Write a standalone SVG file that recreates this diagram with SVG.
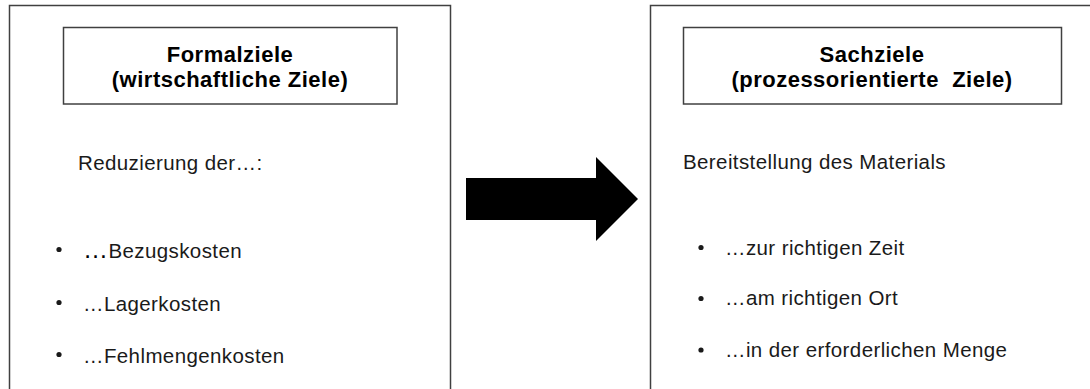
<svg xmlns="http://www.w3.org/2000/svg" width="1090" height="389" viewBox="0 0 1090 389">
<style>
.frame{fill:#fff;stroke:#404040;stroke-width:1.5}
.title{font-family:"Liberation Sans",Arial,sans-serif;font-weight:bold;font-size:22px;letter-spacing:0.5px;fill:#000;text-anchor:middle;white-space:pre}
.txt{font-family:"Liberation Sans",Arial,sans-serif;font-size:20.5px;letter-spacing:0.4px;fill:#1a1a1a}
.bul{fill:#1a1a1a}
</style>
<rect width="1090" height="389" fill="#fff"/>
<g id="formalziele">
<rect class="frame" x="9.5" y="5.5" width="441" height="400"/>
<rect class="frame" x="63.5" y="27.5" width="333.5" height="76.5"/>
<text class="title" x="230" y="62">Formalziele</text>
<text class="title" x="230" y="87">(wirtschaftliche Ziele)</text>
<text class="txt" x="78" y="170">Reduzierung der…:</text>
<circle class="bul" cx="59" cy="249.5" r="2.6"/>
<text class="txt" x="83" y="258"><tspan font-size="25px" fill="#000">…</tspan>Bezugskosten</text>
<circle class="bul" cx="59" cy="302.5" r="2.6"/>
<text class="txt" x="83" y="311">…Lagerkosten</text>
<circle class="bul" cx="59" cy="354.5" r="2.6"/>
<text class="txt" x="83" y="363">…Fehlmengenkosten</text>
</g>
<g id="sachziele">
<rect class="frame" x="650.5" y="5.5" width="460" height="400"/>
<rect class="frame" x="683.5" y="27.5" width="378" height="76.5"/>
<text class="title" x="872" y="62">Sachziele</text>
<text class="title" x="872" y="87" xml:space="preserve">(prozessorientierte  Ziele)</text>
<text class="txt" x="683" y="169">Bereitstellung des Materials</text>
<circle class="bul" cx="701" cy="247.5" r="2.6"/>
<text class="txt" x="725" y="255">…zur richtigen Zeit</text>
<circle class="bul" cx="701" cy="298.5" r="2.6"/>
<text class="txt" x="725" y="305">…am richtigen Ort</text>
<circle class="bul" cx="701" cy="350" r="2.6"/>
<text class="txt" x="725" y="357">…in der erforderlichen Menge</text>
</g>
<g id="connectors">
<polygon points="466,178 596,178 596,157 638,199 596,241 596,220 466,220" fill="#000"/>
</g>
</svg>
